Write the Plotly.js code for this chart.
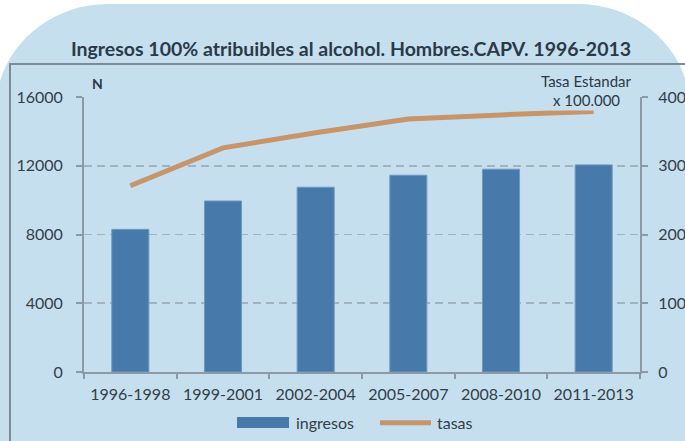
<!DOCTYPE html>
<html>
<head>
<meta charset="utf-8">
<script src="https://cdn.plot.ly/plotly-3.0.1.min.js"></script>
<style>
html,body{margin:0;padding:0;background:#ffffff;}
#chart{width:685px;height:441px;}
</style>
</head>
<body>
<div id="chart"></div>
<script>
// ---- data ----
var categories = ["1996-1998", "1999-2001", "2002-2004", "2005-2007", "2008-2010", "2011-2013"];
var ingresos = [8300, 9950, 10750, 11450, 11800, 12050];
var tasas = [271, 326, 348, 368, 374, 379];
var leftTicks = [0, 4000, 8000, 12000, 16000];
var rightTicks = [0, 100, 200, 300, 400];
var seriesNames = ["ingresos", "tasas"];
var chartTitle = "Ingresos 100% atribuibles al alcohol. Hombres.CAPV. 1996-2013";

// ---- geometry helpers (pixel -> paper) ----
var W = 685, Hh = 441;
var PL = 84, PR = 640, PT = 97, PB = 372;
function px(x){ return ((x - PL) / (PR - PL)).toFixed(5); }
function py(y){ return ((PB - y) / (PB - PT)).toFixed(5); }
function pxn(x){ return (x - PL) / (PR - PL); }
function pyn(y){ return (PB - y) / (PB - PT); }

var barColor = "#4779aa";
var lineColor = "#c6956a";
var bgColor = "#c6dfee";
var textColor = "#2a3a48";
var FONT = "Lato, 'Open Sans', sans-serif";

// rounded background path
var cornerR = 105, cornerRX = 112;
var bx0 = -4, bx1 = 690, bTop = 4, bBot = 446;
var bgPath = "M" + px(bx0) + "," + py(bBot) +
  " L" + px(bx0) + "," + py(bTop + cornerR) +
  " C" + px(bx0) + "," + py(bTop + cornerR*0.45) + " " + px(bx0 + cornerRX*0.45) + "," + py(bTop) + " " + px(bx0 + cornerRX) + "," + py(bTop) +
  " L" + px(bx1 - cornerRX) + "," + py(bTop) +
  " C" + px(bx1 - cornerRX*0.45) + "," + py(bTop) + " " + px(bx1) + "," + py(bTop + cornerR*0.45) + " " + px(bx1) + "," + py(bTop + cornerR) +
  " L" + px(bx1) + "," + py(bBot) + " Z";

var traces = [
  {
    type: "bar", name: seriesNames[0], x: categories, y: ingresos,
    marker: {color: barColor, line: {color: "#7099c2", width: 1}},
    yaxis: "y", showlegend: false, hoverinfo: "x+y"
  },
  {
    type: "scatter", mode: "lines", name: seriesNames[1], x: categories, y: tasas,
    line: {color: lineColor, width: 5},
    yaxis: "y2", showlegend: false, hoverinfo: "x+y"
  }
];

var layout = {
  width: W, height: Hh,
  margin: {l: PL, r: W - PR, t: PT, b: Hh - PB, pad: 0},
  paper_bgcolor: "#ffffff",
  plot_bgcolor: "rgba(0,0,0,0)",
  bargap: 0.6,
  showlegend: false,
  font: {family: FONT, size: 16, color: "#333e48"},
  title: {
    text: chartTitle,
    font: {family: FONT, size: 19.5, color: textColor, weight: "bold"},
    xref: "container", yref: "container",
    x: 351 / W, xanchor: "center",
    y: 1 - 49 / Hh, yanchor: "middle"
  },
  xaxis: {
    type: "category",
    showline: true, linecolor: "#8c9aa5", linewidth: 2,
    ticks: "outside", tickson: "boundaries", ticklen: 5, tickcolor: "#8c9aa5", tickwidth: 2,
    showgrid: false, zeroline: false,
    tickfont: {family: FONT, size: 16, color: "#333e48"},
    ticklabelstandoff: 7,
    fixedrange: true
  },
  yaxis: {
    range: [0, 16000], tickvals: leftTicks, ticktext: leftTicks.map(String),
    showline: true, linecolor: "#8c9aa5", linewidth: 2,
    ticks: "outside", ticklen: 6, tickcolor: "#8c9aa5", tickwidth: 2,
    showgrid: true, gridcolor: "#a2b2bf", gridwidth: 1.6, griddash: "8px,5px",
    zeroline: false,
    tickfont: {family: FONT, size: 16, color: "#333e48"},
    ticklabelstandoff: 10,
    fixedrange: true
  },
  yaxis2: {
    range: [0, 400], tickvals: rightTicks, ticktext: rightTicks.map(String),
    overlaying: "y", side: "right",
    showline: true, linecolor: "#8c9aa5", linewidth: 2,
    ticks: "outside", ticklen: 6, tickcolor: "#8c9aa5", tickwidth: 2,
    showgrid: false, zeroline: false,
    tickfont: {family: FONT, size: 16, color: "#333e48"},
    ticklabelstandoff: 7,
    fixedrange: true
  },
  shapes: [
    {type: "path", xref: "paper", yref: "paper", path: bgPath, fillcolor: bgColor, line: {width: 0}, layer: "below"},
    {type: "rect", xref: "paper", yref: "paper", x0: pxn(10), x1: pxn(692), y0: pyn(448), y1: pyn(64),
     line: {color: "#7d8b96", width: 2}, fillcolor: "rgba(0,0,0,0)", layer: "below"},
    // legend swatches
    {type: "rect", xref: "paper", yref: "paper", x0: pxn(237), x1: pxn(289), y0: pyn(428), y1: pyn(417),
     fillcolor: barColor, line: {width: 0}, layer: "above"},
    {type: "line", xref: "paper", yref: "paper", x0: pxn(380), x1: pxn(431), y0: pyn(422.7), y1: pyn(422.7),
     line: {color: lineColor, width: 5}, layer: "above"}
  ],
  annotations: [
    {xref: "paper", yref: "paper", x: pxn(97), y: pyn(83.5), text: "N", showarrow: false,
     xanchor: "center", yanchor: "middle", font: {family: FONT, size: 14, color: textColor, weight: "bold"}},
    {xref: "paper", yref: "paper", x: pxn(586), y: pyn(81), text: "Tasa Estandar", showarrow: false,
     xanchor: "center", yanchor: "middle", font: {family: FONT, size: 15, color: textColor}},
    {xref: "paper", yref: "paper", x: pxn(586), y: pyn(100), text: "x 100.000", showarrow: false,
     xanchor: "center", yanchor: "middle", bgcolor: bgColor, borderpad: 1,
     font: {family: FONT, size: 15, color: textColor}},
    {xref: "paper", yref: "paper", x: pxn(294), y: pyn(422.5), text: seriesNames[0], showarrow: false,
     xanchor: "left", yanchor: "middle", font: {family: FONT, size: 16, color: "#333e48"}},
    {xref: "paper", yref: "paper", x: pxn(435), y: pyn(422.5), text: seriesNames[1], showarrow: false,
     xanchor: "left", yanchor: "middle", font: {family: FONT, size: 16, color: "#333e48"}}
  ]
};

Plotly.newPlot("chart", traces, layout, {displayModeBar: false, staticPlot: true});
</script>
</body>
</html>
